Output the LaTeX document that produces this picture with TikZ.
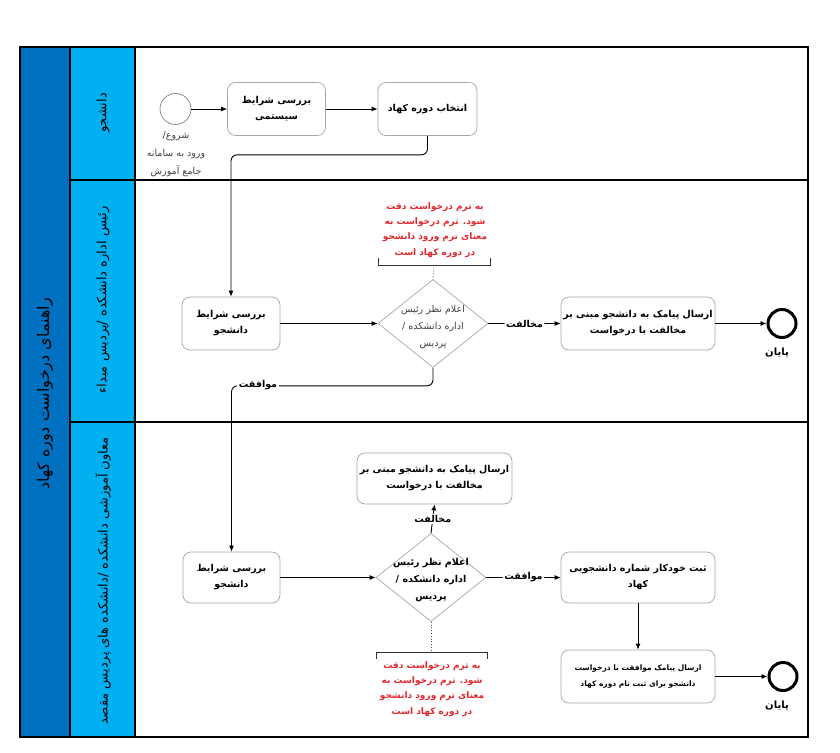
\documentclass[tikz,border=0pt]{standalone}
\usepackage{fontspec}
\newfontfamily\arabicfont[Script=Arabic]{DejaVu Sans}
\TeXXeTstate=1
\usetikzlibrary{shapes.geometric,arrows.meta}
\newcommand{\ar}[1]{\beginR #1\endR}
\definecolor{poolblue}{HTML}{0070C0}
\definecolor{lanecyan}{HTML}{00B0F0}
\definecolor{boxgray}{HTML}{A6A6A6}
\definecolor{notered}{HTML}{E3262B}
\definecolor{txtgray}{HTML}{404040}
\tikzset{
 task/.style={draw=boxgray, line width=0.7pt, rounded corners=8pt, fill=white, inner sep=0pt, align=center, font=\arabicfont\bfseries\fontsize{9.5}{16}\selectfont},
 gate/.style={diamond, draw=boxgray, line width=0.7pt, inner sep=0pt, minimum width=110pt, minimum height=88pt},
 gatetxt/.style={align=center, inner sep=0pt},
 evstart/.style={circle, draw=gray, line width=0.7pt, minimum size=31pt, inner sep=0pt},
 evend/.style={circle, draw=black, line width=3pt, minimum size=28pt, inner sep=0pt},
 flow/.style={draw=black, line width=0.9pt, rounded corners=6pt, -{Latex[length=6pt,width=5pt]}},
 lbl/.style={fill=white, inner sep=1.5pt, font=\arabicfont\bfseries\fontsize{9.5}{12}\selectfont},
 note/.style={text=notered, align=center, inner sep=0pt, font=\arabicfont\bfseries\fontsize{9}{15.2}\selectfont},
 bracket/.style={draw=black!80, line width=1pt},
 lanetxt/.style={rotate=90, inner sep=0pt, font=\arabicfont\fontsize{13}{15}\selectfont},
 endlbl/.style={inner sep=0pt, font=\arabicfont\bfseries\fontsize{10}{12}\selectfont}
}
\begin{document}
\begin{tikzpicture}[x=1pt,y=-1pt]
\useasboundingbox (0,0) rectangle (840,752);
% pool and lanes
\fill[poolblue] (20,47) rectangle (70,737);
\fill[lanecyan] (70,47) rectangle (135,737);
\draw[line width=1.2pt] (20,47) rectangle (808,737);
\draw[line width=1.2pt] (70,47) -- (70,737);
\draw[line width=1.2pt] (135,47) -- (135,737);
\draw[line width=1.2pt] (70,180) -- (808,180);
\draw[line width=1.2pt] (70,422) -- (808,422);
\node[lanetxt, font=\arabicfont\fontsize{16}{18}\selectfont] (pooltxt) at (45,394) {\ar{راهنمای درخواست دوره کهاد}};
\node[lanetxt] (lane1) at (103,113) {\ar{دانشجو}};
\node[lanetxt] (lane2) at (103,300) {\ar{رئیس اداره دانشکده /پردیس مبداء}};
\node[lanetxt] (lane3) at (103,581) {\ar{معاون آموزشی دانشکده /دانشکده های پردیس مقصد}};

% lane 1
\node[evstart] (start) at (175.5,109) {};
\node[align=center, text=txtgray, inner sep=0pt, font=\arabicfont\fontsize{9.5}{18}\selectfont] (starttxt) at (176,154) {\ar{شروع/}\\\ar{ورود به سامانه}\\\ar{جامع آموزش}};
\node[task, minimum width=98pt, minimum height=53pt] (sys) at (276.5,109) {\ar{بررسی شرایط}\\\ar{سیستمی}};
\node[task, minimum width=99pt, minimum height=53pt] (select) at (427.5,109) {\ar{انتخاب دوره کهاد}};

% lane 2
\node[task, minimum width=98pt, minimum height=53pt] (chk1) at (231,323.5) {\ar{بررسی شرایط}\\\ar{دانشجو}};
\node[gate] (g1) at (433,323.5) {};
\node[gatetxt, text=txtgray, font=\arabicfont\fontsize{9.5}{17}\selectfont] (g1txt) at (433,327) {\ar{اعلام نظر رئیس}\\\ar{اداره دانشکده /}\\\ar{پردیس}};
\node[task, minimum width=154pt, minimum height=53pt] (rej1) at (638,323.5) {\ar{ارسال پیامک به دانشجو مبنی بر}\\\ar{مخالفت با درخواست}};
\node[evend] (end1) at (782,323.5) {};
\node[endlbl] (end1txt) at (777,353) {\ar{پایان}};
\node[note] (note1) at (435,230) {\ar{به ترم درخواست دقت}\\\ar{شود. ترم درخواست به}\\\ar{معنای ترم ورود دانشجو}\\\ar{در دوره کهاد است}};
\coordinate (br1) at (434,265);
\draw[bracket] (378,258) -- (378,265) -- (490,265) -- (490,258);
\draw[black!70, dotted, line width=0.8pt] (br1) -- (g1.north);

% lane 3
\node[task, minimum width=155pt, minimum height=51pt] (rej2) at (434.5,478.5) {\ar{ارسال پیامک به دانشجو مبنی بر}\\\ar{مخالفت با درخواست}};
\node[task, minimum width=97pt, minimum height=51pt] (chk2) at (231.5,577.5) {\ar{بررسی شرایط}\\\ar{دانشجو}};
\node[gate] (g2) at (431,577.5) {};
\node[gatetxt, font=\arabicfont\bfseries\fontsize{9.5}{17}\selectfont] (g2txt) at (431,580) {\ar{اعلام نظر رئیس}\\\ar{اداره دانشکده /}\\\ar{پردیس}};
\node[task, minimum width=154pt, minimum height=51pt] (reg) at (638,577.5) {\ar{ثبت خودکار شماره دانشجویی}\\\ar{کهاد}};
\node[task, minimum width=154pt, minimum height=53pt, font=\arabicfont\bfseries\fontsize{7.5}{16}\selectfont] (msg) at (638,676.5) {\ar{ارسال پیامک موافقت با درخواست}\\\ar{دانشجو برای ثبت نام دوره کهاد}};
\node[evend] (end2) at (783,676.5) {};
\node[endlbl] (end2txt) at (777,706) {\ar{پایان}};
\coordinate (br2) at (431,652);
\draw[bracket] (376,659) -- (376,652) -- (487,652) -- (487,659);
\draw[black!70, dotted, line width=0.8pt] (g2.south) -- (br2);
\node[note] (note2) at (432,689) {\ar{به ترم درخواست دقت}\\\ar{شود. ترم درخواست به}\\\ar{معنای ترم ورود دانشجو}\\\ar{در دوره کهاد است}};

% connectors
\draw[flow] (start.east) -- (sys.west);
\draw[flow] (sys.east) -- (select.west);
\draw[flow] (select.south) -- ++(0,19) -| (chk1.north);
\draw[flow] (chk1.east) -- (g1.west);
\draw[flow] (g1.east) -- node[lbl] (no1) {\ar{مخالفت}} (rej1.west);
\draw[flow] (rej1.east) -- (end1.west);
\draw[flow] (g1.south) -- ++(0,18) -| (chk2.north);
\node[lbl] (yes1) at (258,385) {\ar{موافقت}};
\draw[flow] (chk2.east) -- (g2.west);
\draw[flow] (g2.north) -- node[lbl] (no2) {\ar{مخالفت}} (rej2.south);
\draw[flow] (g2.east) -- node[lbl] (yes2) {\ar{موافقت}} (reg.west);
\draw[flow] (reg.south) -- (msg.north);
\draw[flow] (msg.east) -- (end2.west);
\end{tikzpicture}
\end{document}
